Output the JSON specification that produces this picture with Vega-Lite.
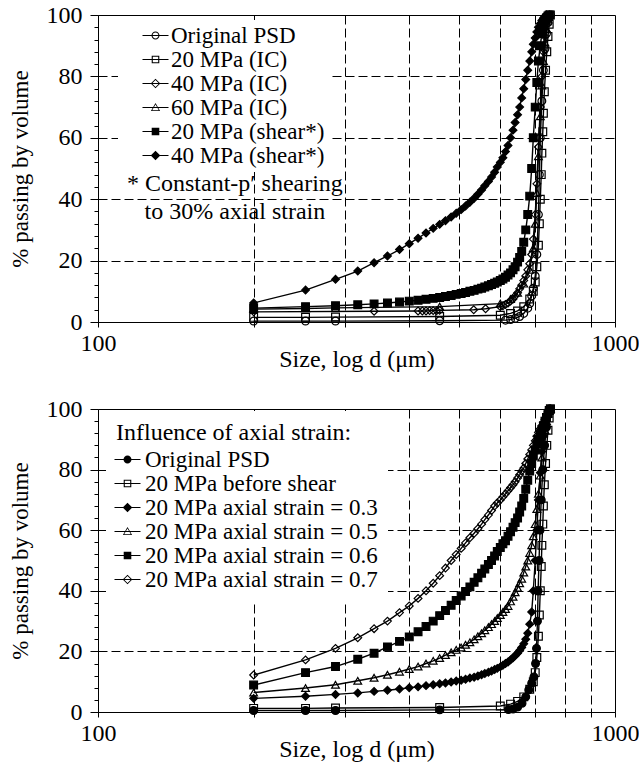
{
  "$schema": "https://vega.github.io/schema/vega-lite/v6.json",
  "background": "white",
  "padding": {"left": 8, "top": 2, "right": 0, "bottom": 0},
  "config": {
    "view": {"stroke": "black", "strokeWidth": 1},
    "axis": {"labelColor": "black", "titleColor": "black", "domainColor": "black", "tickColor": "black", "titleFontWeight": "normal"},
    "axisX": {"labelFont": "'Liberation Serif'", "titleFont": "'Liberation Serif'"},
    "axisY": {"labelFont": "'Liberation Serif'", "titleFont": "'Liberation Serif'"},
    "legend": {"labelFont": "'Liberation Serif'", "titleFont": "'Liberation Serif'", "labelColor": "black", "titleColor": "black"},
    "text": {"font": "'Liberation Serif'"}
  },
  "datasets": {
    "top": [
      {"s":"Original PSD","d":200,"p":0.3},{"s":"Original PSD","d":252,"p":0.3},{"s":"Original PSD","d":288,"p":0.3},{"s":"Original PSD","d":458,"p":0.4},{"s":"Original PSD","d":614,"p":0.6},{"s":"Original PSD","d":628,"p":0.8},{"s":"Original PSD","d":641,"p":1.2},{"s":"Original PSD","d":654,"p":1.8},{"s":"Original PSD","d":666,"p":2.8},{"s":"Original PSD","d":678,"p":4.5},{"s":"Original PSD","d":684,"p":6},{"s":"Original PSD","d":690,"p":8.5},{"s":"Original PSD","d":695,"p":11},{"s":"Original PSD","d":701,"p":15},{"s":"Original PSD","d":706,"p":22},{"s":"Original PSD","d":711,"p":35},{"s":"Original PSD","d":714,"p":48},{"s":"Original PSD","d":717,"p":60},{"s":"Original PSD","d":722,"p":72},{"s":"Original PSD","d":727,"p":82},{"s":"Original PSD","d":732,"p":89},{"s":"Original PSD","d":737,"p":94},{"s":"Original PSD","d":742,"p":97.5},{"s":"Original PSD","d":746,"p":99.3},{"s":"Original PSD","d":750,"p":100},
      {"s":"20 MPa (IC)","d":200,"p":1.5},{"s":"20 MPa (IC)","d":252,"p":1.5},{"s":"20 MPa (IC)","d":288,"p":1.6},{"s":"20 MPa (IC)","d":458,"p":1.8},{"s":"20 MPa (IC)","d":600,"p":2.2},{"s":"20 MPa (IC)","d":628,"p":2.8},{"s":"20 MPa (IC)","d":648,"p":3.6},{"s":"20 MPa (IC)","d":666,"p":5},{"s":"20 MPa (IC)","d":684,"p":7.5},{"s":"20 MPa (IC)","d":695,"p":10},{"s":"20 MPa (IC)","d":701,"p":13},{"s":"20 MPa (IC)","d":706,"p":18},{"s":"20 MPa (IC)","d":711,"p":25},{"s":"20 MPa (IC)","d":714,"p":32},{"s":"20 MPa (IC)","d":717,"p":40},{"s":"20 MPa (IC)","d":720,"p":48},{"s":"20 MPa (IC)","d":722,"p":55},{"s":"20 MPa (IC)","d":725,"p":62},{"s":"20 MPa (IC)","d":727,"p":68},{"s":"20 MPa (IC)","d":730,"p":75},{"s":"20 MPa (IC)","d":734,"p":82},{"s":"20 MPa (IC)","d":738,"p":88},{"s":"20 MPa (IC)","d":742,"p":93},{"s":"20 MPa (IC)","d":746,"p":97},{"s":"20 MPa (IC)","d":750,"p":100},
      {"s":"40 MPa (IC)","d":200,"p":3.3},{"s":"40 MPa (IC)","d":342,"p":3.5},{"s":"40 MPa (IC)","d":416,"p":3.6},{"s":"40 MPa (IC)","d":424,"p":3.6},{"s":"40 MPa (IC)","d":431,"p":3.6},{"s":"40 MPa (IC)","d":438,"p":3.7},{"s":"40 MPa (IC)","d":445,"p":3.7},{"s":"40 MPa (IC)","d":452,"p":3.7},{"s":"40 MPa (IC)","d":458,"p":3.8},{"s":"40 MPa (IC)","d":533,"p":4},{"s":"40 MPa (IC)","d":562,"p":4.3},{"s":"40 MPa (IC)","d":600,"p":5},{"s":"40 MPa (IC)","d":607,"p":5.3},{"s":"40 MPa (IC)","d":614,"p":5.7},{"s":"40 MPa (IC)","d":621,"p":6.2},{"s":"40 MPa (IC)","d":628,"p":6.8},{"s":"40 MPa (IC)","d":635,"p":7.5},{"s":"40 MPa (IC)","d":641,"p":8.5},{"s":"40 MPa (IC)","d":648,"p":9.5},{"s":"40 MPa (IC)","d":654,"p":10.8},{"s":"40 MPa (IC)","d":660,"p":12},{"s":"40 MPa (IC)","d":666,"p":13.5},{"s":"40 MPa (IC)","d":672,"p":15},{"s":"40 MPa (IC)","d":678,"p":17},{"s":"40 MPa (IC)","d":684,"p":19},{"s":"40 MPa (IC)","d":690,"p":22},{"s":"40 MPa (IC)","d":695,"p":27},{"s":"40 MPa (IC)","d":701,"p":35},{"s":"40 MPa (IC)","d":706,"p":45},{"s":"40 MPa (IC)","d":711,"p":57},{"s":"40 MPa (IC)","d":717,"p":70},{"s":"40 MPa (IC)","d":722,"p":80},{"s":"40 MPa (IC)","d":727,"p":88},{"s":"40 MPa (IC)","d":732,"p":93},{"s":"40 MPa (IC)","d":737,"p":97},{"s":"40 MPa (IC)","d":742,"p":99},{"s":"40 MPa (IC)","d":746,"p":100},
      {"s":"60 MPa (IC)","d":200,"p":4.2},{"s":"60 MPa (IC)","d":252,"p":4.4},{"s":"60 MPa (IC)","d":288,"p":4.6},{"s":"60 MPa (IC)","d":458,"p":5},{"s":"60 MPa (IC)","d":600,"p":6},{"s":"60 MPa (IC)","d":628,"p":7.5},{"s":"60 MPa (IC)","d":648,"p":9.5},{"s":"60 MPa (IC)","d":666,"p":12.5},{"s":"60 MPa (IC)","d":684,"p":17},{"s":"60 MPa (IC)","d":695,"p":24},{"s":"60 MPa (IC)","d":701,"p":32},{"s":"60 MPa (IC)","d":706,"p":42},{"s":"60 MPa (IC)","d":711,"p":54},{"s":"60 MPa (IC)","d":717,"p":67},{"s":"60 MPa (IC)","d":722,"p":77},{"s":"60 MPa (IC)","d":727,"p":85},{"s":"60 MPa (IC)","d":732,"p":91},{"s":"60 MPa (IC)","d":737,"p":95.5},{"s":"60 MPa (IC)","d":742,"p":98.5},{"s":"60 MPa (IC)","d":746,"p":100},
      {"s":"20 MPa (shear*)","d":200,"p":4.5},{"s":"20 MPa (shear*)","d":252,"p":5},{"s":"20 MPa (shear*)","d":288,"p":5.3},{"s":"20 MPa (shear*)","d":318,"p":5.6},{"s":"20 MPa (shear*)","d":342,"p":5.9},{"s":"20 MPa (shear*)","d":363,"p":6.2},{"s":"20 MPa (shear*)","d":383,"p":6.5},{"s":"20 MPa (shear*)","d":400,"p":6.8},{"s":"20 MPa (shear*)","d":416,"p":7.1},{"s":"20 MPa (shear*)","d":431,"p":7.4},{"s":"20 MPa (shear*)","d":445,"p":7.7},{"s":"20 MPa (shear*)","d":458,"p":8},{"s":"20 MPa (shear*)","d":470,"p":8.3},{"s":"20 MPa (shear*)","d":482,"p":8.6},{"s":"20 MPa (shear*)","d":493,"p":9},{"s":"20 MPa (shear*)","d":504,"p":9.3},{"s":"20 MPa (shear*)","d":514,"p":9.6},{"s":"20 MPa (shear*)","d":524,"p":10},{"s":"20 MPa (shear*)","d":534,"p":10.3},{"s":"20 MPa (shear*)","d":543,"p":10.7},{"s":"20 MPa (shear*)","d":552,"p":11},{"s":"20 MPa (shear*)","d":560,"p":11.4},{"s":"20 MPa (shear*)","d":569,"p":11.8},{"s":"20 MPa (shear*)","d":577,"p":12.2},{"s":"20 MPa (shear*)","d":585,"p":12.6},{"s":"20 MPa (shear*)","d":592,"p":13},{"s":"20 MPa (shear*)","d":600,"p":13.5},{"s":"20 MPa (shear*)","d":607,"p":14},{"s":"20 MPa (shear*)","d":614,"p":14.6},{"s":"20 MPa (shear*)","d":621,"p":15.3},{"s":"20 MPa (shear*)","d":628,"p":16},{"s":"20 MPa (shear*)","d":635,"p":17},{"s":"20 MPa (shear*)","d":641,"p":18},{"s":"20 MPa (shear*)","d":648,"p":19.5},{"s":"20 MPa (shear*)","d":654,"p":21},{"s":"20 MPa (shear*)","d":660,"p":23},{"s":"20 MPa (shear*)","d":666,"p":26},{"s":"20 MPa (shear*)","d":672,"p":30},{"s":"20 MPa (shear*)","d":678,"p":35},{"s":"20 MPa (shear*)","d":684,"p":41},{"s":"20 MPa (shear*)","d":690,"p":50},{"s":"20 MPa (shear*)","d":695,"p":60},{"s":"20 MPa (shear*)","d":701,"p":70},{"s":"20 MPa (shear*)","d":706,"p":78},{"s":"20 MPa (shear*)","d":711,"p":85},{"s":"20 MPa (shear*)","d":717,"p":90},{"s":"20 MPa (shear*)","d":722,"p":94},{"s":"20 MPa (shear*)","d":727,"p":96.5},{"s":"20 MPa (shear*)","d":732,"p":98},{"s":"20 MPa (shear*)","d":737,"p":99},{"s":"20 MPa (shear*)","d":742,"p":99.7},{"s":"20 MPa (shear*)","d":746,"p":100},
      {"s":"40 MPa (shear*)","d":200,"p":6.2},{"s":"40 MPa (shear*)","d":252,"p":10.4},{"s":"40 MPa (shear*)","d":288,"p":13.9},{"s":"40 MPa (shear*)","d":318,"p":16.6},{"s":"40 MPa (shear*)","d":342,"p":19.3},{"s":"40 MPa (shear*)","d":363,"p":21.5},{"s":"40 MPa (shear*)","d":383,"p":23.6},{"s":"40 MPa (shear*)","d":400,"p":25.5},{"s":"40 MPa (shear*)","d":416,"p":27.3},{"s":"40 MPa (shear*)","d":431,"p":29},{"s":"40 MPa (shear*)","d":445,"p":30.5},{"s":"40 MPa (shear*)","d":458,"p":31.8},{"s":"40 MPa (shear*)","d":470,"p":33},{"s":"40 MPa (shear*)","d":482,"p":34.2},{"s":"40 MPa (shear*)","d":493,"p":35.4},{"s":"40 MPa (shear*)","d":504,"p":36.6},{"s":"40 MPa (shear*)","d":514,"p":37.8},{"s":"40 MPa (shear*)","d":524,"p":39},{"s":"40 MPa (shear*)","d":534,"p":40.3},{"s":"40 MPa (shear*)","d":543,"p":41.6},{"s":"40 MPa (shear*)","d":552,"p":43},{"s":"40 MPa (shear*)","d":560,"p":44.4},{"s":"40 MPa (shear*)","d":569,"p":45.8},{"s":"40 MPa (shear*)","d":577,"p":47.2},{"s":"40 MPa (shear*)","d":585,"p":48.8},{"s":"40 MPa (shear*)","d":592,"p":50.5},{"s":"40 MPa (shear*)","d":600,"p":52},{"s":"40 MPa (shear*)","d":607,"p":53.5},{"s":"40 MPa (shear*)","d":614,"p":55.5},{"s":"40 MPa (shear*)","d":621,"p":57.5},{"s":"40 MPa (shear*)","d":628,"p":60},{"s":"40 MPa (shear*)","d":635,"p":62.5},{"s":"40 MPa (shear*)","d":641,"p":65},{"s":"40 MPa (shear*)","d":648,"p":67.5},{"s":"40 MPa (shear*)","d":654,"p":70},{"s":"40 MPa (shear*)","d":660,"p":73},{"s":"40 MPa (shear*)","d":666,"p":76},{"s":"40 MPa (shear*)","d":672,"p":79},{"s":"40 MPa (shear*)","d":678,"p":82},{"s":"40 MPa (shear*)","d":684,"p":85},{"s":"40 MPa (shear*)","d":690,"p":88},{"s":"40 MPa (shear*)","d":695,"p":90.5},{"s":"40 MPa (shear*)","d":701,"p":92.5},{"s":"40 MPa (shear*)","d":706,"p":94.5},{"s":"40 MPa (shear*)","d":711,"p":96},{"s":"40 MPa (shear*)","d":717,"p":97.2},{"s":"40 MPa (shear*)","d":722,"p":98.2},{"s":"40 MPa (shear*)","d":727,"p":99},{"s":"40 MPa (shear*)","d":732,"p":99.6},{"s":"40 MPa (shear*)","d":737,"p":100}
    ],
    "bottom": [
      {"s":"Original PSD","d":200,"p":0.5},{"s":"Original PSD","d":252,"p":0.5},{"s":"Original PSD","d":288,"p":0.5},{"s":"Original PSD","d":458,"p":0.7},{"s":"Original PSD","d":622,"p":0.8},{"s":"Original PSD","d":635,"p":1},{"s":"Original PSD","d":648,"p":1.6},{"s":"Original PSD","d":661,"p":2.9},{"s":"Original PSD","d":672,"p":5},{"s":"Original PSD","d":681,"p":7.3},{"s":"Original PSD","d":690,"p":9.5},{"s":"Original PSD","d":697,"p":11.6},{"s":"Original PSD","d":702,"p":16},{"s":"Original PSD","d":705,"p":21},{"s":"Original PSD","d":708,"p":30},{"s":"Original PSD","d":710,"p":40},{"s":"Original PSD","d":713,"p":50},{"s":"Original PSD","d":716,"p":60},{"s":"Original PSD","d":720,"p":70},{"s":"Original PSD","d":725,"p":80},{"s":"Original PSD","d":731,"p":88},{"s":"Original PSD","d":737,"p":94},{"s":"Original PSD","d":742,"p":98},{"s":"Original PSD","d":748,"p":100},
      {"s":"20 MPa before shear","d":200,"p":1.2},{"s":"20 MPa before shear","d":252,"p":1.2},{"s":"20 MPa before shear","d":288,"p":1.3},{"s":"20 MPa before shear","d":458,"p":1.5},{"s":"20 MPa before shear","d":600,"p":2},{"s":"20 MPa before shear","d":628,"p":2.6},{"s":"20 MPa before shear","d":648,"p":3.5},{"s":"20 MPa before shear","d":666,"p":5},{"s":"20 MPa before shear","d":684,"p":7.5},{"s":"20 MPa before shear","d":695,"p":10},{"s":"20 MPa before shear","d":701,"p":13},{"s":"20 MPa before shear","d":706,"p":18},{"s":"20 MPa before shear","d":711,"p":25},{"s":"20 MPa before shear","d":714,"p":32},{"s":"20 MPa before shear","d":717,"p":40},{"s":"20 MPa before shear","d":720,"p":48},{"s":"20 MPa before shear","d":722,"p":55},{"s":"20 MPa before shear","d":725,"p":62},{"s":"20 MPa before shear","d":727,"p":68},{"s":"20 MPa before shear","d":730,"p":75},{"s":"20 MPa before shear","d":734,"p":82},{"s":"20 MPa before shear","d":738,"p":88},{"s":"20 MPa before shear","d":742,"p":93},{"s":"20 MPa before shear","d":746,"p":97},{"s":"20 MPa before shear","d":750,"p":100},
      {"s":"20 MPa axial strain = 0.3","d":200,"p":4.5},{"s":"20 MPa axial strain = 0.3","d":252,"p":5.2},{"s":"20 MPa axial strain = 0.3","d":288,"p":5.8},{"s":"20 MPa axial strain = 0.3","d":318,"p":6.3},{"s":"20 MPa axial strain = 0.3","d":342,"p":6.8},{"s":"20 MPa axial strain = 0.3","d":363,"p":7.2},{"s":"20 MPa axial strain = 0.3","d":383,"p":7.6},{"s":"20 MPa axial strain = 0.3","d":400,"p":8},{"s":"20 MPa axial strain = 0.3","d":416,"p":8.3},{"s":"20 MPa axial strain = 0.3","d":431,"p":8.7},{"s":"20 MPa axial strain = 0.3","d":445,"p":9},{"s":"20 MPa axial strain = 0.3","d":458,"p":9.3},{"s":"20 MPa axial strain = 0.3","d":470,"p":9.6},{"s":"20 MPa axial strain = 0.3","d":482,"p":9.9},{"s":"20 MPa axial strain = 0.3","d":493,"p":10.2},{"s":"20 MPa axial strain = 0.3","d":504,"p":10.5},{"s":"20 MPa axial strain = 0.3","d":514,"p":10.8},{"s":"20 MPa axial strain = 0.3","d":524,"p":11.2},{"s":"20 MPa axial strain = 0.3","d":534,"p":11.5},{"s":"20 MPa axial strain = 0.3","d":543,"p":11.9},{"s":"20 MPa axial strain = 0.3","d":552,"p":12.3},{"s":"20 MPa axial strain = 0.3","d":560,"p":12.7},{"s":"20 MPa axial strain = 0.3","d":569,"p":13.1},{"s":"20 MPa axial strain = 0.3","d":577,"p":13.5},{"s":"20 MPa axial strain = 0.3","d":585,"p":14},{"s":"20 MPa axial strain = 0.3","d":592,"p":14.4},{"s":"20 MPa axial strain = 0.3","d":600,"p":14.9},{"s":"20 MPa axial strain = 0.3","d":607,"p":15.4},{"s":"20 MPa axial strain = 0.3","d":614,"p":16},{"s":"20 MPa axial strain = 0.3","d":621,"p":16.5},{"s":"20 MPa axial strain = 0.3","d":628,"p":17.2},{"s":"20 MPa axial strain = 0.3","d":635,"p":17.9},{"s":"20 MPa axial strain = 0.3","d":641,"p":18.6},{"s":"20 MPa axial strain = 0.3","d":648,"p":19.4},{"s":"20 MPa axial strain = 0.3","d":654,"p":20.3},{"s":"20 MPa axial strain = 0.3","d":660,"p":21.3},{"s":"20 MPa axial strain = 0.3","d":666,"p":22.5},{"s":"20 MPa axial strain = 0.3","d":672,"p":24},{"s":"20 MPa axial strain = 0.3","d":678,"p":26},{"s":"20 MPa axial strain = 0.3","d":684,"p":29},{"s":"20 MPa axial strain = 0.3","d":690,"p":33},{"s":"20 MPa axial strain = 0.3","d":695,"p":40},{"s":"20 MPa axial strain = 0.3","d":701,"p":50},{"s":"20 MPa axial strain = 0.3","d":706,"p":60},{"s":"20 MPa axial strain = 0.3","d":711,"p":70},{"s":"20 MPa axial strain = 0.3","d":717,"p":79},{"s":"20 MPa axial strain = 0.3","d":722,"p":86},{"s":"20 MPa axial strain = 0.3","d":727,"p":91},{"s":"20 MPa axial strain = 0.3","d":732,"p":95},{"s":"20 MPa axial strain = 0.3","d":737,"p":97.5},{"s":"20 MPa axial strain = 0.3","d":742,"p":99},{"s":"20 MPa axial strain = 0.3","d":746,"p":100},
      {"s":"20 MPa axial strain = 0.5","d":200,"p":6.4},{"s":"20 MPa axial strain = 0.5","d":252,"p":7.9},{"s":"20 MPa axial strain = 0.5","d":288,"p":9},{"s":"20 MPa axial strain = 0.5","d":318,"p":10.3},{"s":"20 MPa axial strain = 0.5","d":342,"p":11.3},{"s":"20 MPa axial strain = 0.5","d":363,"p":12.3},{"s":"20 MPa axial strain = 0.5","d":383,"p":13.3},{"s":"20 MPa axial strain = 0.5","d":400,"p":14.2},{"s":"20 MPa axial strain = 0.5","d":416,"p":15},{"s":"20 MPa axial strain = 0.5","d":431,"p":16},{"s":"20 MPa axial strain = 0.5","d":445,"p":16.9},{"s":"20 MPa axial strain = 0.5","d":458,"p":17.8},{"s":"20 MPa axial strain = 0.5","d":470,"p":18.8},{"s":"20 MPa axial strain = 0.5","d":482,"p":19.7},{"s":"20 MPa axial strain = 0.5","d":493,"p":20.5},{"s":"20 MPa axial strain = 0.5","d":504,"p":21.3},{"s":"20 MPa axial strain = 0.5","d":514,"p":22.2},{"s":"20 MPa axial strain = 0.5","d":524,"p":23},{"s":"20 MPa axial strain = 0.5","d":534,"p":24},{"s":"20 MPa axial strain = 0.5","d":543,"p":25},{"s":"20 MPa axial strain = 0.5","d":552,"p":26},{"s":"20 MPa axial strain = 0.5","d":560,"p":27},{"s":"20 MPa axial strain = 0.5","d":569,"p":28},{"s":"20 MPa axial strain = 0.5","d":577,"p":29},{"s":"20 MPa axial strain = 0.5","d":585,"p":30},{"s":"20 MPa axial strain = 0.5","d":592,"p":31},{"s":"20 MPa axial strain = 0.5","d":600,"p":32},{"s":"20 MPa axial strain = 0.5","d":607,"p":33},{"s":"20 MPa axial strain = 0.5","d":614,"p":34},{"s":"20 MPa axial strain = 0.5","d":621,"p":35},{"s":"20 MPa axial strain = 0.5","d":628,"p":36.5},{"s":"20 MPa axial strain = 0.5","d":635,"p":38},{"s":"20 MPa axial strain = 0.5","d":641,"p":39.5},{"s":"20 MPa axial strain = 0.5","d":648,"p":41},{"s":"20 MPa axial strain = 0.5","d":654,"p":42.5},{"s":"20 MPa axial strain = 0.5","d":660,"p":44},{"s":"20 MPa axial strain = 0.5","d":666,"p":46},{"s":"20 MPa axial strain = 0.5","d":672,"p":48},{"s":"20 MPa axial strain = 0.5","d":678,"p":50},{"s":"20 MPa axial strain = 0.5","d":684,"p":52.5},{"s":"20 MPa axial strain = 0.5","d":690,"p":55},{"s":"20 MPa axial strain = 0.5","d":695,"p":58},{"s":"20 MPa axial strain = 0.5","d":701,"p":62},{"s":"20 MPa axial strain = 0.5","d":706,"p":67},{"s":"20 MPa axial strain = 0.5","d":711,"p":72},{"s":"20 MPa axial strain = 0.5","d":717,"p":78},{"s":"20 MPa axial strain = 0.5","d":722,"p":84},{"s":"20 MPa axial strain = 0.5","d":727,"p":89},{"s":"20 MPa axial strain = 0.5","d":732,"p":93},{"s":"20 MPa axial strain = 0.5","d":737,"p":96},{"s":"20 MPa axial strain = 0.5","d":742,"p":98.5},{"s":"20 MPa axial strain = 0.5","d":746,"p":99.5},{"s":"20 MPa axial strain = 0.5","d":750,"p":100},
      {"s":"20 MPa axial strain = 0.6","d":200,"p":8.9},{"s":"20 MPa axial strain = 0.6","d":252,"p":13},{"s":"20 MPa axial strain = 0.6","d":288,"p":15},{"s":"20 MPa axial strain = 0.6","d":318,"p":17.4},{"s":"20 MPa axial strain = 0.6","d":342,"p":19.4},{"s":"20 MPa axial strain = 0.6","d":363,"p":21.5},{"s":"20 MPa axial strain = 0.6","d":383,"p":23.3},{"s":"20 MPa axial strain = 0.6","d":400,"p":24.8},{"s":"20 MPa axial strain = 0.6","d":416,"p":26.5},{"s":"20 MPa axial strain = 0.6","d":431,"p":28.2},{"s":"20 MPa axial strain = 0.6","d":445,"p":30},{"s":"20 MPa axial strain = 0.6","d":458,"p":31.8},{"s":"20 MPa axial strain = 0.6","d":470,"p":33.5},{"s":"20 MPa axial strain = 0.6","d":482,"p":35.2},{"s":"20 MPa axial strain = 0.6","d":493,"p":36.8},{"s":"20 MPa axial strain = 0.6","d":504,"p":38.3},{"s":"20 MPa axial strain = 0.6","d":514,"p":39.8},{"s":"20 MPa axial strain = 0.6","d":524,"p":41.3},{"s":"20 MPa axial strain = 0.6","d":534,"p":42.8},{"s":"20 MPa axial strain = 0.6","d":543,"p":44.3},{"s":"20 MPa axial strain = 0.6","d":552,"p":45.8},{"s":"20 MPa axial strain = 0.6","d":560,"p":47.2},{"s":"20 MPa axial strain = 0.6","d":569,"p":48.7},{"s":"20 MPa axial strain = 0.6","d":577,"p":50},{"s":"20 MPa axial strain = 0.6","d":585,"p":51.5},{"s":"20 MPa axial strain = 0.6","d":592,"p":53},{"s":"20 MPa axial strain = 0.6","d":600,"p":54.3},{"s":"20 MPa axial strain = 0.6","d":607,"p":55.5},{"s":"20 MPa axial strain = 0.6","d":614,"p":56.5},{"s":"20 MPa axial strain = 0.6","d":621,"p":58},{"s":"20 MPa axial strain = 0.6","d":628,"p":59.5},{"s":"20 MPa axial strain = 0.6","d":635,"p":61},{"s":"20 MPa axial strain = 0.6","d":641,"p":62.5},{"s":"20 MPa axial strain = 0.6","d":648,"p":64},{"s":"20 MPa axial strain = 0.6","d":654,"p":66},{"s":"20 MPa axial strain = 0.6","d":660,"p":68},{"s":"20 MPa axial strain = 0.6","d":666,"p":70.5},{"s":"20 MPa axial strain = 0.6","d":672,"p":73.5},{"s":"20 MPa axial strain = 0.6","d":678,"p":76.5},{"s":"20 MPa axial strain = 0.6","d":684,"p":79.5},{"s":"20 MPa axial strain = 0.6","d":690,"p":82},{"s":"20 MPa axial strain = 0.6","d":695,"p":84.5},{"s":"20 MPa axial strain = 0.6","d":701,"p":86.5},{"s":"20 MPa axial strain = 0.6","d":706,"p":88.5},{"s":"20 MPa axial strain = 0.6","d":711,"p":90},{"s":"20 MPa axial strain = 0.6","d":717,"p":91.5},{"s":"20 MPa axial strain = 0.6","d":722,"p":93},{"s":"20 MPa axial strain = 0.6","d":727,"p":94.5},{"s":"20 MPa axial strain = 0.6","d":732,"p":96},{"s":"20 MPa axial strain = 0.6","d":737,"p":97.2},{"s":"20 MPa axial strain = 0.6","d":742,"p":98.5},{"s":"20 MPa axial strain = 0.6","d":746,"p":99.5},{"s":"20 MPa axial strain = 0.6","d":750,"p":100},
      {"s":"20 MPa axial strain = 0.7","d":200,"p":12.2},{"s":"20 MPa axial strain = 0.7","d":252,"p":17.2},{"s":"20 MPa axial strain = 0.7","d":288,"p":21},{"s":"20 MPa axial strain = 0.7","d":318,"p":24.5},{"s":"20 MPa axial strain = 0.7","d":342,"p":27.5},{"s":"20 MPa axial strain = 0.7","d":363,"p":30},{"s":"20 MPa axial strain = 0.7","d":383,"p":32.8},{"s":"20 MPa axial strain = 0.7","d":400,"p":35},{"s":"20 MPa axial strain = 0.7","d":416,"p":37.5},{"s":"20 MPa axial strain = 0.7","d":431,"p":40},{"s":"20 MPa axial strain = 0.7","d":445,"p":42.5},{"s":"20 MPa axial strain = 0.7","d":458,"p":45},{"s":"20 MPa axial strain = 0.7","d":470,"p":47.5},{"s":"20 MPa axial strain = 0.7","d":482,"p":50},{"s":"20 MPa axial strain = 0.7","d":493,"p":52},{"s":"20 MPa axial strain = 0.7","d":504,"p":54},{"s":"20 MPa axial strain = 0.7","d":514,"p":55.8},{"s":"20 MPa axial strain = 0.7","d":524,"p":57.5},{"s":"20 MPa axial strain = 0.7","d":534,"p":59},{"s":"20 MPa axial strain = 0.7","d":543,"p":60.5},{"s":"20 MPa axial strain = 0.7","d":552,"p":62},{"s":"20 MPa axial strain = 0.7","d":560,"p":63.5},{"s":"20 MPa axial strain = 0.7","d":569,"p":65},{"s":"20 MPa axial strain = 0.7","d":577,"p":66.5},{"s":"20 MPa axial strain = 0.7","d":585,"p":68},{"s":"20 MPa axial strain = 0.7","d":592,"p":69},{"s":"20 MPa axial strain = 0.7","d":600,"p":70},{"s":"20 MPa axial strain = 0.7","d":607,"p":71},{"s":"20 MPa axial strain = 0.7","d":614,"p":72},{"s":"20 MPa axial strain = 0.7","d":621,"p":73},{"s":"20 MPa axial strain = 0.7","d":628,"p":74},{"s":"20 MPa axial strain = 0.7","d":635,"p":75},{"s":"20 MPa axial strain = 0.7","d":641,"p":76},{"s":"20 MPa axial strain = 0.7","d":648,"p":77.2},{"s":"20 MPa axial strain = 0.7","d":654,"p":78.3},{"s":"20 MPa axial strain = 0.7","d":660,"p":79.5},{"s":"20 MPa axial strain = 0.7","d":666,"p":80.5},{"s":"20 MPa axial strain = 0.7","d":672,"p":82},{"s":"20 MPa axial strain = 0.7","d":678,"p":83.5},{"s":"20 MPa axial strain = 0.7","d":684,"p":85},{"s":"20 MPa axial strain = 0.7","d":690,"p":86.5},{"s":"20 MPa axial strain = 0.7","d":695,"p":88},{"s":"20 MPa axial strain = 0.7","d":701,"p":89.5},{"s":"20 MPa axial strain = 0.7","d":706,"p":91},{"s":"20 MPa axial strain = 0.7","d":711,"p":92.3},{"s":"20 MPa axial strain = 0.7","d":717,"p":93.5},{"s":"20 MPa axial strain = 0.7","d":722,"p":94.5},{"s":"20 MPa axial strain = 0.7","d":727,"p":95.5},{"s":"20 MPa axial strain = 0.7","d":732,"p":96.5},{"s":"20 MPa axial strain = 0.7","d":737,"p":97.5},{"s":"20 MPa axial strain = 0.7","d":742,"p":98.5},{"s":"20 MPa axial strain = 0.7","d":746,"p":99.3},{"s":"20 MPa axial strain = 0.7","d":750,"p":100}
    ]
  },
  "spacing": 87,
  "bounds": "flush",
  "vconcat": [
    {
      "width": 517,
      "height": 307,
      "data": {"name": "top"},
      "encoding": {
        "x": {"field": "d", "type": "quantitative", "title": "Size, log d (μm)",
          "scale": {"type": "log", "domain": [100, 1000], "nice": false},
          "axis": {"values": [100,200,300,400,500,600,700,800,900,1000],
            "labelExpr": "datum.value == 100 ? '100' : (datum.value == 1000 ? '1000' : '')",
            "labelFont": "'Liberation Serif'", "titleFont": "'Liberation Serif'",
            "labelFontSize": 24, "labelPadding": 4, "labelFlush": false, "labelOverlap": false, "tickSize": 5,
            "grid": true, "gridColor": "black", "gridDash": [9, 4], "gridWidth": 1,
            "gridOpacity": {"condition": {"test": "datum.value == 100 || datum.value == 1000", "value": 0}, "value": 1},
            "titleFontSize": 24, "titleY": 37, "titleBaseline": "middle"}},
        "y": {"field": "p", "type": "quantitative", "title": "% passing by volume",
          "scale": {"domain": [0, 100], "nice": false},
          "axis": {"values": [0,4,8,12,16,20,24,28,32,36,40,44,48,52,56,60,64,68,72,76,80,84,88,92,96,100],
            "labelExpr": "datum.value % 20 == 0 ? datum.label : ''",
            "labelFont": "'Liberation Serif'", "titleFont": "'Liberation Serif'",
            "labelFontSize": 24, "labelPadding": 8, "labelOverlap": false,
            "tickSize": {"condition": {"test": "datum.value % 20 == 0", "value": 8}, "value": 4},
            "grid": true, "gridColor": "black", "gridDash": [9, 4], "gridWidth": 1,
            "gridOpacity": {"condition": {"test": "datum.value % 20 == 0 && datum.value > 0 && datum.value < 100", "value": 1}, "value": 0},
            "titleFontSize": 23, "titleX": -71, "titleBaseline": "alphabetic"}}
      },
      "layer": [
        {"mark": {"type": "line", "color": "black", "strokeWidth": 1.4},
         "encoding": {"detail": {"field": "s", "type": "nominal"}}},
        {"mark": {"type": "point", "size": 60, "stroke": "black", "strokeWidth": 1.2, "opacity": 1},
         "encoding": {
           "shape": {"field": "s", "type": "nominal", "legend": null,
             "scale": {"domain": ["Original PSD","20 MPa (IC)","40 MPa (IC)","60 MPa (IC)","20 MPa (shear*)","40 MPa (shear*)"],
                       "range": ["circle","square","diamond","triangle-up","square","diamond"]}},
           "fill": {"field": "s", "type": "nominal", "legend": null,
             "scale": {"domain": ["Original PSD","20 MPa (IC)","40 MPa (IC)","60 MPa (IC)","20 MPa (shear*)","40 MPa (shear*)"],
                       "range": ["transparent","transparent","transparent","transparent","black","black"]}}}},
        {"transform": [{"filter": "false"}],
         "mark": {"type": "point", "filled": true, "color": "black", "size": 60, "opacity": 1},
         "encoding": {
           "shape": {"field": "s", "type": "nominal",
             "scale": {"domain": ["Original PSD","20 MPa (IC)","40 MPa (IC)","60 MPa (IC)","20 MPa (shear*)","40 MPa (shear*)"],
                       "range": [
                         "M-1.3,-0.06H1.3V0.06H-1.3ZM0.4,0A0.4,0.4,0,1,1,-0.4,0A0.4,0.4,0,1,1,0.4,0ZM0.29,0A0.29,0.29,0,1,0,-0.29,0A0.29,0.29,0,1,0,0.29,0Z",
                         "M-1.3,-0.06H1.3V0.06H-1.3ZM-0.38,-0.38H0.38V0.38H-0.38ZM-0.27,-0.27V0.27H0.27V-0.27Z",
                         "M-1.3,-0.06H1.3V0.06H-1.3ZM0,-0.48L0.48,0L0,0.48L-0.48,0ZM0,-0.35L-0.35,0L0,0.35L0.35,0Z",
                         "M-1.3,-0.06H1.3V0.06H-1.3ZM0,-0.44L0.46,0.36L-0.46,0.36ZM0,-0.29L-0.33,0.28L0.33,0.28Z",
                         "M-1.3,-0.06H1.3V0.06H-1.3ZM-0.38,-0.38H0.38V0.38H-0.38Z",
                         "M-1.3,-0.06H1.3V0.06H-1.3ZM0,-0.48L0.48,0L0,0.48L-0.48,0Z"]},
             "legend": {"orient": "none", "legendX": 20, "legendY": 5, "title": null, "fillColor": "white", "padding": 4,
               "symbolSize": 400, "symbolOffset": 22, "labelOffset": 4, "rowPadding": -0.4, "labelFontSize": 23,
               "symbolFillColor": "black", "symbolStrokeWidth": 0, "labelLimit": 400}}}},
        {"transform": [{"filter": "datum.s == 'Original PSD' && datum.d == 200"}],
         "mark": {"type": "text", "align": "center", "baseline": "middle", "fontSize": 24, "lineHeight": 28, "font": "'Liberation Serif'", "color": "black"},
         "encoding": {"x": {"datum": 184}, "y": {"datum": 44.8},
           "text": {"value": ["* Constant-p′ shearing", "to 30% axial strain"]}}}
      ],
      "resolve": {"scale": {"shape": "independent", "fill": "independent"}}
    },
    {
      "width": 517,
      "height": 303,
      "data": {"name": "bottom"},
      "encoding": {
        "x": {"field": "d", "type": "quantitative", "title": "Size, log d (μm)",
          "scale": {"type": "log", "domain": [100, 1000], "nice": false},
          "axis": {"values": [100,200,300,400,500,600,700,800,900,1000],
            "labelExpr": "datum.value == 100 ? '100' : (datum.value == 1000 ? '1000' : '')",
            "labelFont": "'Liberation Serif'", "titleFont": "'Liberation Serif'",
            "labelFontSize": 24, "labelPadding": 4, "labelFlush": false, "labelOverlap": false, "tickSize": 5,
            "grid": true, "gridColor": "black", "gridDash": [9, 4], "gridWidth": 1,
            "gridOpacity": {"condition": {"test": "datum.value == 100 || datum.value == 1000", "value": 0}, "value": 1},
            "titleFontSize": 24, "titleY": 37, "titleBaseline": "middle"}},
        "y": {"field": "p", "type": "quantitative", "title": "% passing by volume",
          "scale": {"domain": [0, 100], "nice": false},
          "axis": {"values": [0,4,8,12,16,20,24,28,32,36,40,44,48,52,56,60,64,68,72,76,80,84,88,92,96,100],
            "labelExpr": "datum.value % 20 == 0 ? datum.label : ''",
            "labelFont": "'Liberation Serif'", "titleFont": "'Liberation Serif'",
            "labelFontSize": 24, "labelPadding": 8, "labelOverlap": false,
            "tickSize": {"condition": {"test": "datum.value % 20 == 0", "value": 8}, "value": 4},
            "grid": true, "gridColor": "black", "gridDash": [9, 4], "gridWidth": 1,
            "gridOpacity": {"condition": {"test": "datum.value % 20 == 0 && datum.value > 0 && datum.value < 100", "value": 1}, "value": 0},
            "titleFontSize": 23, "titleX": -71, "titleBaseline": "alphabetic"}}
      },
      "layer": [
        {"mark": {"type": "line", "color": "black", "strokeWidth": 1.4},
         "encoding": {"detail": {"field": "s", "type": "nominal"}}},
        {"mark": {"type": "point", "size": 60, "stroke": "black", "strokeWidth": 1.2, "opacity": 1},
         "encoding": {
           "shape": {"field": "s", "type": "nominal", "legend": null,
             "scale": {"domain": ["Original PSD","20 MPa before shear","20 MPa axial strain = 0.3","20 MPa axial strain = 0.5","20 MPa axial strain = 0.6","20 MPa axial strain = 0.7"],
                       "range": ["circle","square","diamond","triangle-up","square","diamond"]}},
           "fill": {"field": "s", "type": "nominal", "legend": null,
             "scale": {"domain": ["Original PSD","20 MPa before shear","20 MPa axial strain = 0.3","20 MPa axial strain = 0.5","20 MPa axial strain = 0.6","20 MPa axial strain = 0.7"],
                       "range": ["black","transparent","black","transparent","black","transparent"]}}}},
        {"transform": [{"filter": "false"}],
         "mark": {"type": "point", "filled": true, "color": "black", "size": 60, "opacity": 1},
         "encoding": {
           "shape": {"field": "s", "type": "nominal",
             "scale": {"domain": ["Original PSD","20 MPa before shear","20 MPa axial strain = 0.3","20 MPa axial strain = 0.5","20 MPa axial strain = 0.6","20 MPa axial strain = 0.7"],
                       "range": [
                         "M-1.3,-0.06H1.3V0.06H-1.3ZM0.4,0A0.4,0.4,0,1,1,-0.4,0A0.4,0.4,0,1,1,0.4,0Z",
                         "M-1.3,-0.06H1.3V0.06H-1.3ZM-0.38,-0.38H0.38V0.38H-0.38ZM-0.27,-0.27V0.27H0.27V-0.27Z",
                         "M-1.3,-0.06H1.3V0.06H-1.3ZM0,-0.48L0.48,0L0,0.48L-0.48,0Z",
                         "M-1.3,-0.06H1.3V0.06H-1.3ZM0,-0.44L0.46,0.36L-0.46,0.36ZM0,-0.29L-0.33,0.28L0.33,0.28Z",
                         "M-1.3,-0.06H1.3V0.06H-1.3ZM-0.38,-0.38H0.38V0.38H-0.38Z",
                         "M-1.3,-0.06H1.3V0.06H-1.3ZM0,-0.48L0.48,0L0,0.48L-0.48,0ZM0,-0.35L-0.35,0L0,0.35L0.35,0Z"]},
             "legend": {"orient": "none", "legendX": 8, "legendY": 2, "title": "Influence of axial strain:", "titleFontSize": 24, "titleFontWeight": "normal", "titlePadding": 3, "titleLimit": 400,
               "fillColor": "white", "padding": 10,
               "symbolSize": 400, "symbolOffset": 0, "labelOffset": 6, "rowPadding": 0, "labelFontSize": 23,
               "symbolFillColor": "black", "symbolStrokeWidth": 0, "labelLimit": 400}}}}
      ],
      "resolve": {"scale": {"shape": "independent", "fill": "independent"}}
    }
  ]
}
